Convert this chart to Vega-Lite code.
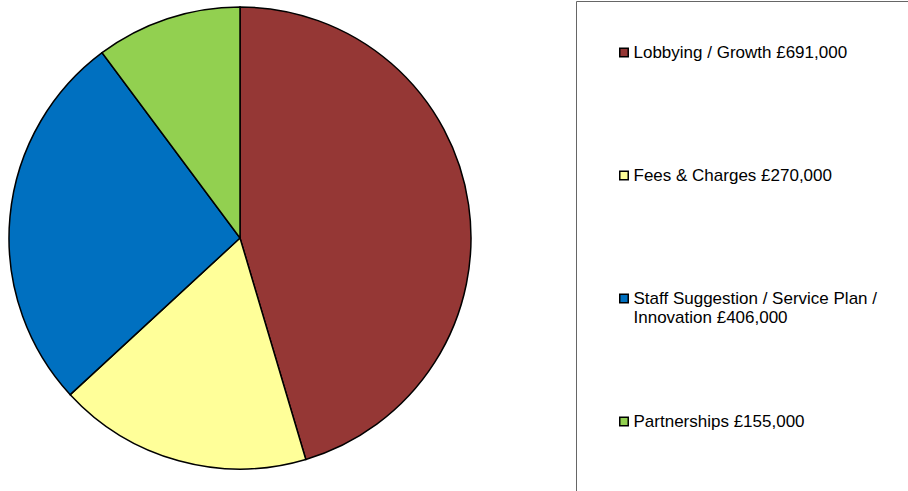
{
  "$schema": "https://vega.github.io/schema/vega-lite/v6.json",
  "width": 480,
  "height": 476,
  "padding": 0,
  "autosize": {"type": "pad"},
  "background": "white",
  "data": {
    "values": [
      {"category": "Lobbying / Growth £691,000", "value": 691000, "order": 1},
      {"category": "Fees & Charges £270,000", "value": 270000, "order": 2},
      {"category": "Staff Suggestion / Service Plan / Innovation £406,000", "value": 406000, "order": 3},
      {"category": "Partnerships £155,000", "value": 155000, "order": 4}
    ]
  },
  "mark": {"type": "arc", "outerRadius": 231, "stroke": "black", "strokeWidth": 1.5},
  "encoding": {
    "theta": {"field": "value", "type": "quantitative", "stack": true},
    "order": {"field": "order", "type": "quantitative"},
    "color": {
      "field": "category",
      "type": "nominal",
      "scale": {
        "domain": ["Lobbying / Growth £691,000", "Fees & Charges £270,000", "Staff Suggestion / Service Plan / Innovation £406,000", "Partnerships £155,000"],
        "range": ["#953735", "#FFFF99", "#0070C0", "#92D050"]
      },
      "legend": {
        "title": null,
        "orient": "none",
        "legendX": 576,
        "legendY": 1,
        "padding": 43,
        "strokeColor": "#666666",
        "symbolType": "square",
        "symbolSize": 72,
        "symbolStrokeColor": "black",
        "symbolStrokeWidth": 1.5,
        "symbolOpacity": 1,
        "symbolOffset": -3.5,
        "labelFont": "Liberation Sans",
        "labelFontSize": 17,
        "labelColor": "black",
        "labelLineHeight": 20,
        "labelLimit": 400,
        "labelOffset": 1,
        "labelBaseline": "middle",
        "rowPadding": 86,
        "labelExpr": "datum.label == 'Staff Suggestion / Service Plan / Innovation £406,000' ? ['Staff Suggestion / Service Plan /', 'Innovation £406,000'] : [datum.label, '']"
      }
    }
  },
  "config": {"view": {"stroke": null}}
}
